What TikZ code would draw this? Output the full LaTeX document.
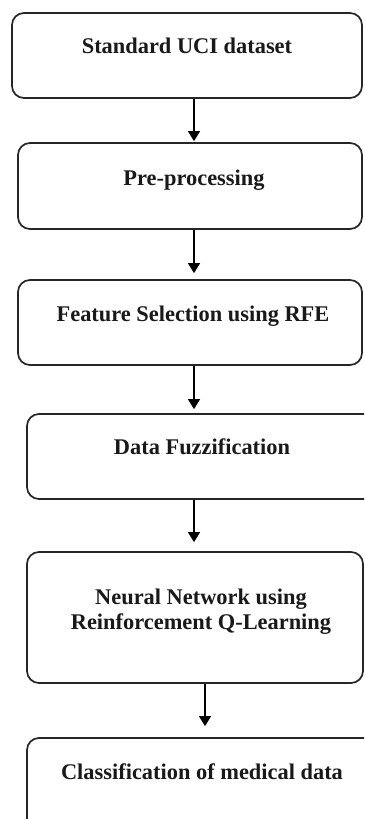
\documentclass[tikz,border=0pt]{standalone}
\usepackage{fontspec}
\setmainfont{Liberation Serif}
\usetikzlibrary{arrows.meta}

\begin{document}
\begin{tikzpicture}[x=1pt,y=-1pt,
	stage/.style={draw=black!85,line width=1.7pt,rounded corners=12pt,inner sep=0pt},
	caption/.style={font=\bfseries\fontsize{22.4}{25}\selectfont,text=black!90,anchor=base,align=center,inner sep=0pt},
	flow/.style={line width=1.2pt,-{Triangle[width=12pt,length=10pt]}}]
	
	\clip (0,0) rectangle (364,819);
	\fill[white] (0,0) rectangle (364,819);
	
	%boxes
	\node[stage,minimum width=350pt,minimum height=85pt] (uci) at (187,55.5){};
	\node[stage,minimum width=344pt,minimum height=86pt] (pre) at (190,186){};
	\node[stage,minimum width=344pt,minimum height=85pt] (feat) at (190,322.5){};
	\node[stage,minimum width=360pt,minimum height=85pt] (fuzz) at (207,456.5){};
	\node[stage,minimum width=336pt,minimum height=131pt] (nn) at (195,617.5){};
	\node[stage,minimum width=360pt,minimum height=112pt] (cls) at (207,794){};
	
	%texts
	\node[caption] (uci-txt) at (187,53){Standard UCI dataset};
	\node[caption] (pre-txt) at (194,185){Pre-processing};
	\node[caption] (feat-txt) at (193,321){Feature Selection using RFE};
	\node[caption] (fuzz-txt) at (202,454){Data Fuzzification};
	\node[caption,anchor=center] (nn-txt) at (201,611.5){Neural Network using\\Reinforcement Q-Learning};
	\node[caption] (cls-txt) at (202,779){Classification of medical data};
	
	%arrows
	\draw[flow,shorten >=1pt] ([xshift=7pt]uci.south) -- ([xshift=4pt]pre.north);
	\draw[flow,shorten >=6pt] ([xshift=4pt]pre.south) -- ([xshift=4pt]feat.north);
	\draw[flow,shorten >=4pt] ([xshift=4pt]feat.south) -- ([xshift=-13pt]fuzz.north);
	\draw[flow,shorten >=9pt] ([xshift=-13pt]fuzz.south) -- ([xshift=-1pt]nn.north);
	\draw[flow,shorten >=11pt] ([xshift=10pt]nn.south) -- ([xshift=-2pt]cls.north);
	
\end{tikzpicture}
\end{document}
